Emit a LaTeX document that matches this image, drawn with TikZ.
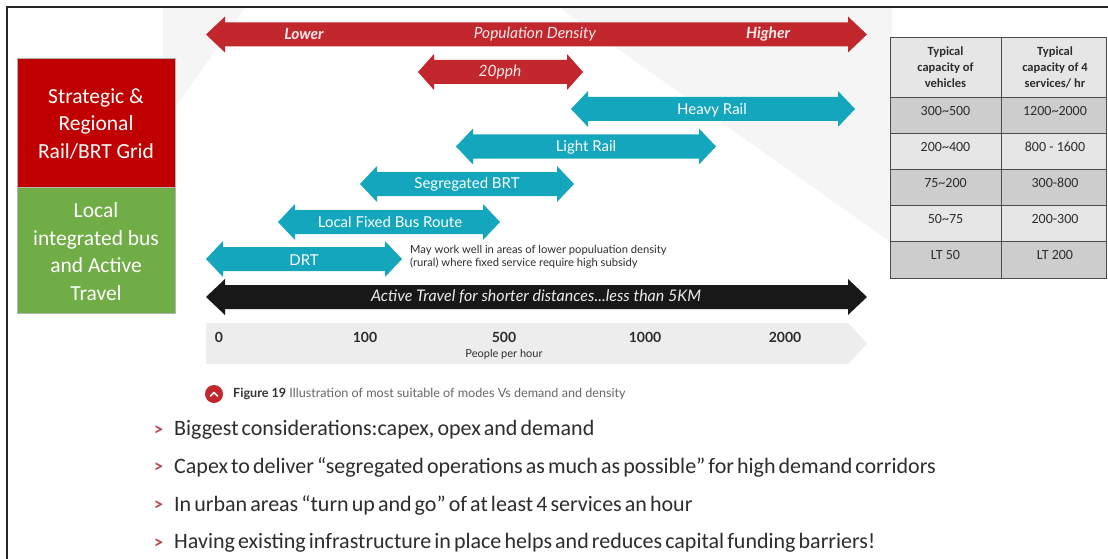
\documentclass[tikz,border=0pt]{standalone}
\usepackage{fontspec}
\setmainfont{Carlito}
\newfontfamily\lato{Lato}
\definecolor{arrred}{RGB}{193,39,45}
\definecolor{modeteal}{RGB}{20,166,188}
\definecolor{arrblack}{RGB}{24,24,24}
\definecolor{boxred}{RGB}{192,0,0}
\definecolor{boxgreen}{RGB}{112,173,71}
\definecolor{bulletred}{RGB}{185,70,72}
\definecolor{txtgray}{RGB}{45,45,45}
\definecolor{bggray}{RGB}{245,245,245}
\definecolor{scalegray}{RGB}{237,237,237}
\definecolor{rowdark}{RGB}{205,205,205}
\definecolor{rowlight}{RGB}{230,230,230}
\newcommand\dblarrow[5][18]{%
  \fill[#5] (#2,#4) -- (#2+#1,#4-18) -- (#2+#1,#4-12) -- (#3-#1,#4-12) -- (#3-#1,#4-18) -- (#3,#4) -- (#3-#1,#4+18) -- (#3-#1,#4+12) -- (#2+#1,#4+12) -- (#2+#1,#4+18) -- cycle;}
\newcommand\tightspaces{\spaceskip=0.14em plus 0.05em\relax}
\tikzset{
  lab/.style={font=\lato\fontsize{15}{17}\selectfont, text=white, inner sep=0pt},
  redlab/.style={lab, text=white!92!red},
  scalelab/.style={font=\lato\bfseries\fontsize{14}{16}\selectfont, text=txtgray, inner sep=0pt},
  boxtext/.style={font=\fontsize{21.5}{27.5}\selectfont, text=white, align=center, inner sep=0pt},
  bullet/.style={font=\bfseries\fontsize{18}{20}\selectfont, text=bulletred, inner sep=0pt},
  bullettext/.style={font=\fontsize{22}{24}\selectfont, text=txtgray, anchor=west, inner sep=0pt},
  cellhead/.style={font=\bfseries\fontsize{12.5}{16}\selectfont, text=txtgray, align=center, inner sep=0pt},
  cell/.style={font=\fontsize{14}{16}\selectfont, text=txtgray, inner sep=0pt},
  note/.style={font=\lato\fontsize{11.2}{13}\selectfont, text=txtgray, align=left, anchor=north west, inner sep=0pt},
}
\begin{document}
\begin{tikzpicture}[x=1pt,y=-1pt]
\useasboundingbox (0,0) rectangle (1108,559);
\fill[white] (0,0) rectangle (1108,559);
% background shading
\fill[bggray] (163,8) -- (245,8) -- (163,125) -- cycle;
\fill[bggray] (560,8) -- (892,8) -- (892,243) -- cycle;
% frame
\draw[line width=2pt, black!85] (7,559) -- (7,7) -- (1108,7);
% left boxes
\fill[boxred] (17,58) rectangle (175,187);
\fill[boxgreen] (17,187) rectangle (175,313);
\draw[gray!60, line width=0.6pt] (17,58) rectangle (175,313);
\draw[gray!60, line width=0.6pt] (17,187) -- (175,187);
\node[boxtext] (strat) at (96,124) {Strategic \&\\Regional\\Rail/BRT Grid};
\node[boxtext] (local) at (96,251.5) {Local\\integrated bus\\and Active\\Travel};
% arrows
\dblarrow[19]{206}{867}{34.5}{arrred}
\dblarrow[16]{418}{583}{72}{arrred}
\dblarrow[17]{571}{855}{109}{modeteal}
\dblarrow[17]{456}{716}{146.5}{modeteal}
\dblarrow[17]{360}{574}{184}{modeteal}
\dblarrow[17]{278}{500}{222}{modeteal}
\dblarrow[17]{206}{402}{259}{modeteal}
\dblarrow[19]{206}{867}{297}{arrblack}
\node[redlab, font=\lato\bfseries\itshape\fontsize{15.5}{17}\selectfont] (lower) at (304,34) {Lower};
\node[redlab, font=\lato\itshape\fontsize{15.5}{17}\selectfont] (popden) at (535,34) {Population Density};
\node[redlab, font=\lato\bfseries\itshape\fontsize{15.5}{17}\selectfont] (higher) at (768,34) {Higher};
\node[redlab, font=\lato\itshape\fontsize{15.5}{17}\selectfont] (pph) at (500,72) {20pph};
\node[lab] (heavy) at (712,110) {Heavy Rail};
\node[lab] (light) at (586,147) {Light Rail};
\node[lab] (sbrt) at (467,184) {Segregated BRT};
\node[lab] (lfbr) at (390,222) {Local Fixed Bus Route};
\node[lab] (drt) at (304,260) {DRT};
\node[lab, font=\lato\itshape\fontsize{16}{18}\selectfont, text=white!92!black] (active) at (536,297) {Active Travel for shorter distances...less than 5KM};
\node[note] (drtnote) at (410,245) {May work well in areas of lower populuation density\\(rural) where fixed service require high subsidy};
% scale bar
\fill[scalegray] (206,323) -- (848,323) -- (867,343.5) -- (848,364) -- (206,364) -- cycle;
\node[scalelab] (s0) at (219,337) {0};
\node[scalelab] (s100) at (365,337) {100};
\node[scalelab] (s500) at (504,337) {500};
\node[scalelab] (s1000) at (645,337) {1000};
\node[scalelab] (s2000) at (785,337) {2000};
\node[font=\lato\fontsize{11}{12}\selectfont, text=txtgray, inner sep=0pt] (pph2) at (504,354) {People per hour};
% caption
\fill[arrred] (214,394) circle (9);
\draw[white, line width=1.6pt, line cap=round, line join=round] (210.5,396) -- (214,392.5) -- (217.5,396);
\node[font=\lato\fontsize{12.6}{14}\selectfont, text=black!60, anchor=west, inner sep=0pt] (caption) at (233,394) {\textbf{\color{black!80}Figure 19} Illustration of most suitable of modes Vs demand and density};
% bullets
\foreach \yy/\tt [count=\i] in {430/{Biggest considerations:capex, opex and demand},
  467/{Capex to deliver “segregated operations as much as possible” for high demand corridors},
  505/{In urban areas “turn up and go” of at least 4 services an hour},
  543/{Having existing infrastructure in place helps and reduces capital funding barriers!}}{
  \node[bullet] (b\i) at (158.5,\yy+1) {>};
  \node[bullettext] (t\i) at (174,\yy) {\tightspaces\tt};
}
% table
\fill[rowlight] (890,37) rectangle (1106,97);
\fill[rowdark] (890,97) rectangle (1106,133);
\fill[rowlight] (890,133) rectangle (1106,169);
\fill[rowdark] (890,169) rectangle (1106,205);
\fill[rowlight] (890,205) rectangle (1106,241);
\fill[rowdark] (890,241) rectangle (1106,278);
\draw[black!70, line width=0.8pt] (890,37) rectangle (1106,278);
\draw[black!70, line width=0.8pt] (1001,37) -- (1001,278);
\foreach \yy in {97,133,169,205,241}{\draw[black!70, line width=0.8pt] (890,\yy) -- (1106,\yy);}
\node[cellhead] (h1) at (945.5,67) {Typical\\capacity of\\vehicles};
\node[cellhead] (h2) at (1055,67) {Typical\\capacity of 4\\services/ hr};
\foreach \a/\b/\yy [count=\i] in {300\textasciitilde500/1200\textasciitilde2000/111,
  200\textasciitilde400/800 - 1600/147, 75\textasciitilde200/300-800/183,
  50\textasciitilde75/200-300/219, LT 50/LT 200/255}{
  \node[cell] (ca\i) at (945.5,\yy) {\a};
  \node[cell] (cb\i) at (1055,\yy) {\b};
}
\end{tikzpicture}
\end{document}
